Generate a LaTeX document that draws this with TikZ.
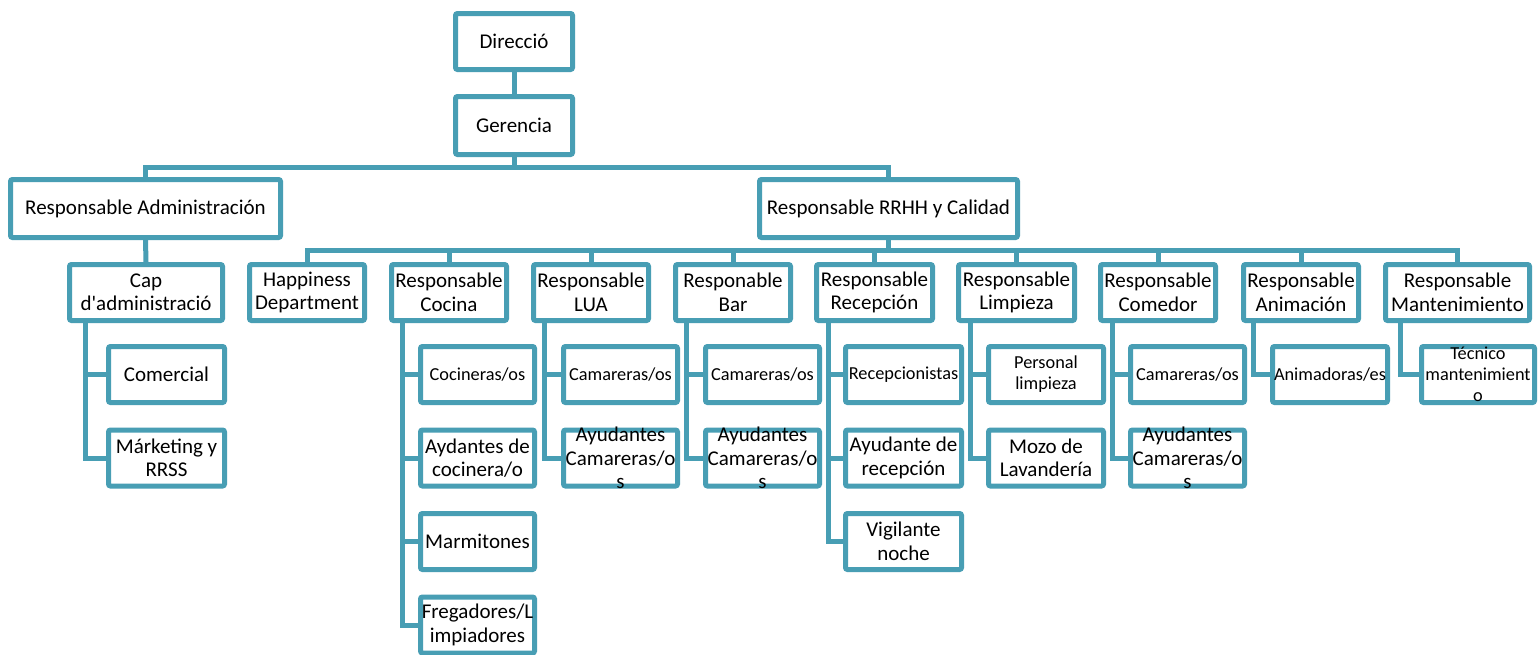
\documentclass[tikz,border=0pt]{standalone}
\usepackage{fontspec}
\setmainfont{Carlito}
\usetikzlibrary{backgrounds}
\definecolor{tc}{RGB}{72,158,180}
\tikzset{
  box/.style={draw=tc, line width=5pt, rounded corners=2pt, fill=white, inner sep=0pt, anchor=north west},
  big/.style={align=center, inner sep=0pt, font=\fontsize{21}{23.5}\selectfont},
  small/.style={align=center, inner sep=0pt, font=\fontsize{18.3}{21}\selectfont},
  conn/.style={draw=tc, line width=5pt, line join=miter},
}
\newcommand\obox[7]{%
  \node[box, minimum width=#4pt-5pt, minimum height=#5pt-5pt] (#1) at (#2,#3) {};
  \node[#6] (#1-t) at (#1.center) {#7};}
\begin{document}
\begin{tikzpicture}[x=1pt,y=-1pt]
\useasboundingbox (0,0) rectangle (1538,654);
% level 0
\obox{dir}{453}{11}{122}{61}{big}{Direcció}
\obox{ger}{453}{94}{122}{63}{big}{Gerencia}
\obox{adm}{8}{177}{275}{63}{big}{Responsable Administración}
\obox{rrhh}{757}{177}{263}{63}{big}{Responsable RRHH y Calidad}
% level 1
\obox{cap}{67}{262}{158}{61}{big}{Cap\\d\textquotesingle administració}
\obox{hap}{247}{262}{120}{61}{big}{Happiness\\Department}
\obox{coc}{389}{262}{120}{61}{big}{Responsable\\Cocina}
\obox{lua}{531}{262}{120}{61}{big}{Responsable\\LUA}
\obox{bar}{673}{262}{120}{61}{big}{Responable\\Bar}
\obox{rec}{814}{262}{121}{61}{big}{Responsable\\Recepción}
\obox{lim}{956}{262}{121}{61}{big}{Responsable\\Limpieza}
\obox{com}{1098}{262}{120}{61}{big}{Responsable\\Comedor}
\obox{ani}{1241}{262}{120}{61}{big}{Responsable\\Animación}
\obox{man}{1383}{262}{149}{61}{big}{Responsable\\Mantenimiento}
% children
\obox{cap1}{106}{344}{121}{61}{big}{Comercial}
\obox{cap2}{106}{427.5}{121}{61}{big}{Márketing y\\RRSS}
\obox{coc1}{418}{344}{119}{61}{small}{Cocineras/os}
\obox{coc2}{418}{427.5}{119}{61}{big}{Aydantes de\\cocinera/o}
\obox{coc3}{418}{511}{119}{61}{big}{Marmitones}
\obox{coc4}{418}{594.5}{119}{61}{big}{Fregadores/L\\impiadores}
\obox{lua1}{561}{344}{119}{61}{small}{Camareras/os}
\obox{lua2}{561}{427.5}{119}{61}{big}{Ayudantes\\Camareras/o\\s}
\obox{bar1}{703}{344}{119}{61}{small}{Camareras/os}
\obox{bar2}{703}{427.5}{119}{61}{big}{Ayudantes\\Camareras/o\\s}
\obox{rec1}{843}{344}{121}{61}{small}{Recepcionistas}
\obox{rec2}{843}{427.5}{121}{61}{big}{Ayudante de\\recepción}
\obox{rec3}{843}{511}{121}{61}{big}{Vigilante\\noche}
\obox{lim1}{986}{344}{120}{61}{small}{Personal\\limpieza}
\obox{lim2}{986}{427.5}{120}{61}{big}{Mozo de\\Lavandería}
\obox{com1}{1128}{344}{119}{61}{small}{Camareras/os}
\obox{com2}{1128}{427.5}{119}{61}{big}{Ayudantes\\Camareras/o\\s}
\obox{ani1}{1270}{344}{120}{61}{small}{Animadoras/es}
\obox{man1}{1419}{344}{118}{61}{small}{Técnico\\mantenimient\\o}
\begin{pgfonlayer}{background}
\fill[white] (0,0) rectangle (1538,654);
\draw[conn] (dir.south) -- (ger.north);
\draw[conn] (ger.south) -- ++(0,10) -| (adm.north);
\draw[conn] (ger.south) -- ++(0,10) -| (rrhh.north);
\draw[conn] (adm.south) -- (cap.north);
\foreach \n in {hap,coc,lua,bar,rec,lim,com,ani,man}
  \draw[conn] (rrhh.south) -- ++(0,10) -| (\n.north);
\foreach \c in {cap1,cap2} \draw[conn] (cap.south west) ++(18,0) |- (\c.west);
\foreach \c in {coc1,coc2,coc3,coc4} \draw[conn] (coc.south west) ++(13,0) |- (\c.west);
\foreach \c in {lua1,lua2} \draw[conn] (lua.south west) ++(13,0) |- (\c.west);
\foreach \c in {bar1,bar2} \draw[conn] (bar.south west) ++(13,0) |- (\c.west);
\foreach \c in {rec1,rec2,rec3} \draw[conn] (rec.south west) ++(14,0) |- (\c.west);
\foreach \c in {lim1,lim2} \draw[conn] (lim.south west) ++(14,0) |- (\c.west);
\foreach \c in {com1,com2} \draw[conn] (com.south west) ++(14,0) |- (\c.west);
\draw[conn] (ani.south west) ++(12,0) |- (ani1.west);
\draw[conn] (man.south west) ++(17,0) |- (man1.west);
\end{pgfonlayer}
\end{tikzpicture}
\end{document}
